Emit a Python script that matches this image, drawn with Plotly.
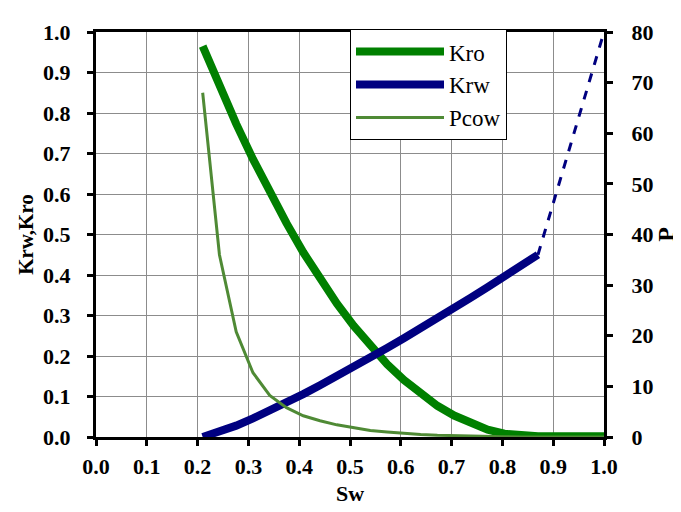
import plotly.graph_objects as go

sw = [0.21, 0.243, 0.276, 0.309, 0.342, 0.375, 0.408, 0.441, 0.474, 0.507, 0.54,
      0.573, 0.606, 0.639, 0.672, 0.705, 0.738, 0.771, 0.804, 0.837, 0.87, 1.0]
kro = [0.965, 0.867, 0.773, 0.686, 0.604, 0.528, 0.456, 0.391, 0.330, 0.275, 0.225,
       0.180, 0.141, 0.106, 0.077, 0.053, 0.033, 0.018, 0.008, 0.003, 0.002, 0.002]
krw = [0.0, 0.012, 0.028, 0.046, 0.065, 0.085, 0.106, 0.128, 0.150, 0.173, 0.196,
       0.220, 0.244, 0.268, 0.293, 0.319, 0.344, 0.370, 0.397, 0.423, 0.45]
pcow = [68.0, 36.0, 20.8, 12.7, 8.2, 5.8, 4.2, 3.2, 2.4, 1.8, 1.3,
        1.0, 0.7, 0.5, 0.35, 0.25, 0.15, 0.1, 0.05, 0.02, 0.0, 0.0]
krw_ext_x = [0.87, 1.0]
krw_ext_y = [0.45, 1.0]

FONT = "Liberation Serif, Times New Roman, serif"
fig = go.Figure()
fig.add_trace(go.Scatter(x=sw, y=kro, name="Kro", mode="lines",
                         line=dict(color="#008000", width=8), legendgroup="a"))
fig.add_trace(go.Scatter(x=sw[:21], y=krw, name="Krw", mode="lines",
                         line=dict(color="#000080", width=8), legendgroup="b"))
fig.add_trace(go.Scatter(x=krw_ext_x, y=krw_ext_y, mode="lines", showlegend=False,
                         line=dict(color="#000080", width=3, dash="dash")))
fig.add_trace(go.Scatter(x=sw, y=pcow, name="Pcow", mode="lines", yaxis="y2",
                         line=dict(color="#4f8a35", width=3), legendgroup="c"))

tickfont = dict(family=FONT, size=22, color="black", weight="bold")
fig.update_layout(
    width=681, height=512,
    margin=dict(l=88, r=85, t=17, b=83),
    plot_bgcolor="white", paper_bgcolor="white",
    showlegend=True,
    xaxis=dict(range=[0, 1], dtick=0.1, tickformat=".1f", showgrid=True,
               gridcolor="#8c8c8c", gridwidth=1, showline=True, linecolor="black",
               linewidth=3, mirror=True, ticks="outside", ticklen=6, tickwidth=3,
               tickcolor="black", tickfont=tickfont, zeroline=False,
               ticklabelstandoff=2,
               title=dict(text="Sw", font=dict(family=FONT, size=22, color="black", weight="bold"),
                          standoff=8)),
    yaxis=dict(range=[0, 1], dtick=0.1, tickformat=".1f", showgrid=True,
               gridcolor="#8c8c8c", gridwidth=1, showline=True, linecolor="black",
               linewidth=3, ticks="outside", ticklen=6, tickwidth=3,
               tickcolor="black", tickfont=tickfont, zeroline=False,
               ticklabelstandoff=12,
               title=dict(text="Krw,Kro", font=dict(family=FONT, size=21, color="black", weight="bold"),
                          standoff=4)),
    yaxis2=dict(range=[0, 80], dtick=10, overlaying="y", side="right", showgrid=False,
                showline=True, linecolor="black", linewidth=3, ticks="outside",
                ticklen=6, tickwidth=3, tickcolor="black", tickfont=tickfont,
                zeroline=False, ticklabelstandoff=14,
                title=dict(text="P", font=dict(family=FONT, size=24, color="black", weight="bold"),
                           standoff=0)),
    legend=dict(x=0.5, y=1.007, xanchor="left", yanchor="top",
                bgcolor="white", bordercolor="black", borderwidth=1,
                font=dict(family=FONT, size=23, color="black"),
                traceorder="grouped", tracegroupgap=0, itemwidth=88),
)
fig.write_html("out.html")
